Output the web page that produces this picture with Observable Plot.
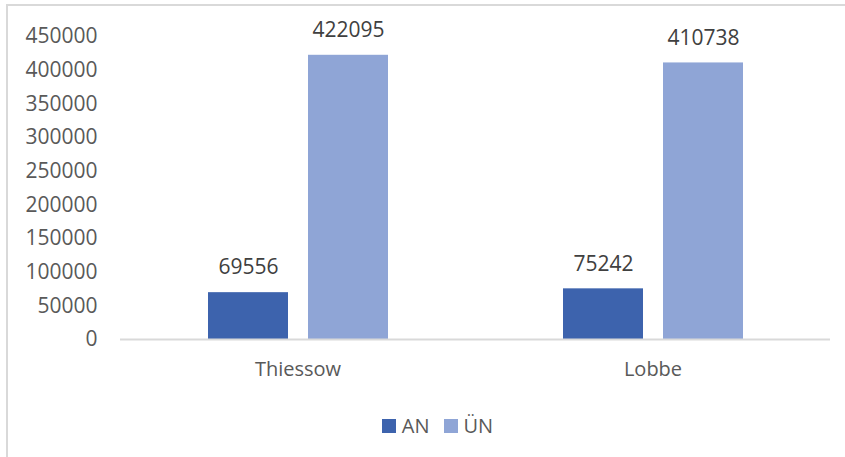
<!DOCTYPE html>
<html>
<head>
<meta charset="utf-8">
<script src="https://cdn.jsdelivr.net/npm/d3@7"></script>
<script src="https://cdn.jsdelivr.net/npm/@observablehq/plot@0.6"></script>
<style>
  html, body { margin: 0; padding: 0; background: #fff; overflow: hidden; }
  body { width: 845px; height: 457px; position: relative; font-family: "Open Sans", sans-serif; }
  #frame { position: absolute; left: 6px; top: 4px; width: 900px; height: 500px; border: 2px solid #d9d9d9; box-sizing: border-box; }
  #chart { position: absolute; left: 0; top: 0; }
  #legend { position: absolute; top: 412px; left: 0; width: 845px; display: flex; justify-content: center; align-items: center; font-size: 20px; color: #595959; padding-left: 30px; box-sizing: border-box; }
  .item { display: flex; align-items: center; margin: 0 7px; }
  .sw { width: 14px; height: 14px; margin-right: 6px; }
  #chart svg g[aria-label="y-axis tick label"] text { font-size: 21px; }
</style>
</head>
<body>
<div id="frame"></div>
<div id="chart"></div>
<div id="legend"></div>
<script>
const sites = ["Thiessow", "Lobbe"];
const series = ["AN", "ÜN"];
const anValues = [69556, 75242];
const unValues = [422095, 410738];
const colors = ["#3d63ad", "#8fa5d6"];
const yTicks = [0, 50000, 100000, 150000, 200000, 250000, 300000, 350000, 400000, 450000];

const data = [];
sites.forEach((s, i) => {
  data.push({site: s, series: "AN", value: anValues[i]});
  data.push({site: s, series: "ÜN", value: unValues[i]});
});

const chart = Plot.plot({
  width: 845,
  height: 390,
  marginTop: 36,
  marginBottom: 51,
  marginLeft: 120,
  marginRight: 15,
  style: {fontFamily: "'Open Sans', sans-serif", fontSize: "20px", color: "#595959", background: "transparent"},
  facet: {data: data, x: "site"},
  fx: {domain: sites, padding: 0, label: null, tickSize: 0, tickPadding: 22, axis: "bottom"},
  x: {domain: series, paddingInner: 0.2, paddingOuter: 0.875, axis: null},
  y: {domain: [0, 450000], ticks: yTicks, tickFormat: d => String(d), tickSize: 0, tickPadding: 23, label: null, line: false},
  color: {domain: series, range: colors},
  marks: [
    Plot.barY(data, {x: "series", y: "value", fill: "series"}),
    Plot.ruleY([0], {stroke: "#d9d9d9", strokeWidth: 2}),
    Plot.text(data, {x: "series", y: "value", text: d => String(d.value), dy: -25, lineAnchor: "middle", fill: "#404040", fontSize: 21})
  ]
});
document.getElementById("chart").appendChild(chart);

const legend = document.getElementById("legend");
series.forEach((s, i) => {
  const item = document.createElement("div");
  item.className = "item";
  const sw = document.createElement("div");
  sw.className = "sw";
  sw.style.background = colors[i];
  const label = document.createElement("span");
  label.textContent = s;
  item.appendChild(sw);
  item.appendChild(label);
  legend.appendChild(item);
});
</script>
</body>
</html>
